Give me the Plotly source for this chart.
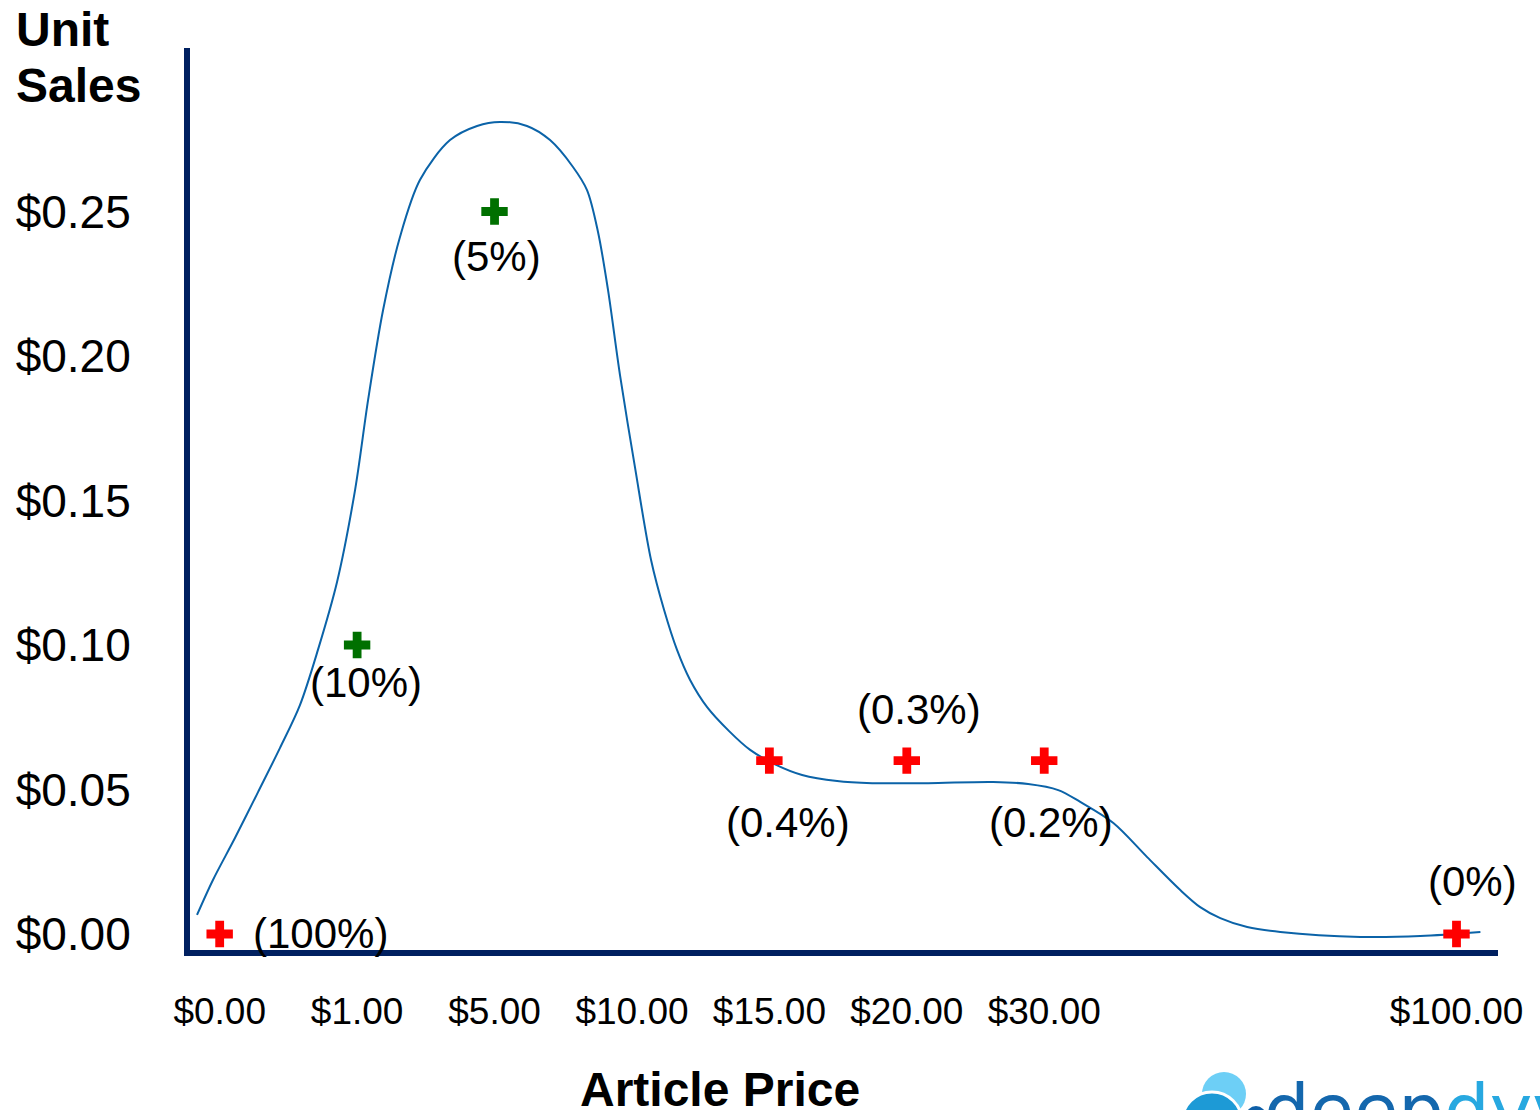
import plotly.graph_objects as go

# Price points along the horizontal axis (blank slots leave a gap before $100)
price_axis = ["$0.00", "$1.00", "$5.00", "$10.00", "$15.00", "$20.00", "$30.00", "", "", "$100.00"]

# Measured points: price, unit-sales value and conversion rate
point_prices = ["$0.00", "$1.00", "$5.00", "$15.00", "$20.00", "$30.00", "$100.00"]
point_values = [0.00, 0.10, 0.25, 0.06, 0.06, 0.06, 0.00]
point_labels = ["(100%)", "(10%)", "(5%)", "(0.4%)", "(0.3%)", "(0.2%)", "(0%)"]
good_prices = ["$1.00", "$5.00"]

# Hand-sketched trend curve (x in price-slot units, y in $)
curve_x = [-0.165, -0.049, 0.111, 0.279, 0.439, 0.584, 0.715, 0.854, 0.985, 1.080,
           1.189, 1.312, 1.457, 1.676, 1.873, 2.040, 2.236, 2.404, 2.571, 2.673,
           2.753, 2.826, 2.913, 3.023, 3.139, 3.234, 3.328, 3.423, 3.547, 3.707,
           3.860, 4.049, 4.238, 4.493, 4.748, 5.155, 5.628, 5.883, 6.102, 6.262,
           6.503, 6.749, 6.990, 7.135, 7.281, 7.477, 7.718, 8.300, 8.737, 9.174]
curve_y = [0.0066, 0.0187, 0.0332, 0.0491, 0.0644, 0.0792, 0.0983, 0.1218, 0.1536, 0.1848,
           0.2159, 0.2412, 0.2609, 0.2747, 0.2796, 0.2810, 0.2796, 0.2747, 0.2654, 0.2574,
           0.2429, 0.2228, 0.1934, 0.1612, 0.1294, 0.1121, 0.0983, 0.0879, 0.0785, 0.0702,
           0.0637, 0.0585, 0.0550, 0.0529, 0.0522, 0.0522, 0.0526, 0.0519, 0.0498, 0.0457,
           0.0384, 0.0266, 0.0152, 0.0093, 0.0055, 0.0024, 0.0007, -0.0010, -0.0007, 0.0007]

y_ticks = [0.00, 0.05, 0.10, 0.15, 0.20, 0.25]

slot_of = {lab: i for i, lab in enumerate(price_axis) if lab}
tick_vals = [slot_of[lab] for lab in price_axis if lab]
tick_text = [lab for lab in price_axis if lab]

px_ = [slot_of[p] for p in point_prices]

FONT = "Liberation Sans, Arial, sans-serif"
NAVY = "#002060"

W, H = 1540, 1110
L, R, T, B = 190, 42, 48, 160
PW, PH = W - L - R, H - T - B


def to_paper_x(px):
    return (px - L) / PW


def to_paper_y(py):
    return (H - B - py) / PH


fig = go.Figure()

fig.add_trace(go.Scatter(
    x=curve_x, y=curve_y, mode="lines",
    line=dict(color="#0b63a8", width=2, shape="spline", smoothing=0.9),
    hoverinfo="skip", cliponaxis=False, showlegend=False,
))

colors = ["#007000" if p in good_prices else "#ff0000" for p in point_prices]
fig.add_trace(go.Scatter(
    x=px_, y=point_values, mode="markers",
    marker=dict(symbol="cross", size=22, color=colors, line=dict(width=0)),
    cliponaxis=False, showlegend=False,
))

# label offsets in pixels (x right, y up) relative to each point
label_offsets = [(101, 0), (9, -38), (2, -45), (19, -62), (12, 51), (7, -62), (16, 52)]
annotations = []
for x, y, t, (dx, dy) in zip(px_, point_values, point_labels, label_offsets):
    annotations.append(dict(
        x=x, y=y, xref="x", yref="y", text=t, showarrow=False,
        xshift=dx, yshift=dy, font=dict(family=FONT, size=42, color="black"),
    ))

# axis titles
for word, top in (("Unit", 1), ("Sales", 57)):
    annotations.append(dict(
        x=to_paper_x(14), y=to_paper_y(top), xref="paper", yref="paper",
        xanchor="left", yanchor="top", align="left", showarrow=False,
        text="<b>%s</b>" % word,
        font=dict(family=FONT, size=48, color="black"),
    ))
annotations.append(dict(
    x=to_paper_x(720), y=to_paper_y(1089), xref="paper", yref="paper",
    xanchor="center", yanchor="middle", showarrow=False,
    text="<b>Article Price</b>",
    font=dict(family=FONT, size=48, color="black"),
))

# brand mark in the lower right corner
annotations.append(dict(
    x=to_paper_x(1262), y=to_paper_y(1066), xref="paper", yref="paper",
    xanchor="left", yanchor="top", showarrow=False,
    text="<span style='color:#1467ad'>deep</span><span style='color:#27a8e0'>dyve</span>",
    font=dict(family="DejaVu Sans", size=72),
))


def circle(cx, cy, r, fill, line_color=None, lw=0):
    return dict(
        type="circle", xref="paper", yref="paper",
        x0=to_paper_x(cx - r), x1=to_paper_x(cx + r),
        y0=to_paper_y(cy + r), y1=to_paper_y(cy - r),
        fillcolor=fill, line=dict(color=line_color or fill, width=lw),
        layer="above",
    )


shapes = [
    circle(1224, 1094, 22, "#6dcff6"),
    circle(1212, 1122, 30, "#1d9ad6", "white", 3),
    circle(1256, 1116, 11, "#0e5fa8", "white", 2),
]

fig.update_layout(
    width=W, height=H, autosize=False,
    margin=dict(l=L, r=R, t=T, b=B),
    paper_bgcolor="white", plot_bgcolor="white",
    annotations=annotations, shapes=shapes,
    xaxis=dict(
        range=[-0.216, 9.302], showgrid=False, zeroline=False,
        showline=True, linecolor=NAVY, linewidth=6,
        tickmode="array", tickvals=tick_vals, ticktext=tick_text,
        ticks="", ticklabelstandoff=24,
        tickfont=dict(family=FONT, size=37, color="black"),
        fixedrange=True,
    ),
    yaxis=dict(
        range=[-0.00554, 0.30657], showgrid=False, zeroline=False,
        showline=True, linecolor=NAVY, linewidth=6,
        tickmode="array", tickvals=y_ticks,
        ticktext=["$%.2f" % v for v in y_ticks],
        ticks="", ticklabelstandoff=44,
        tickfont=dict(family=FONT, size=46, color="black"),
        fixedrange=True,
    ),
)

fig.write_html("out.html", config={"displayModeBar": False})
